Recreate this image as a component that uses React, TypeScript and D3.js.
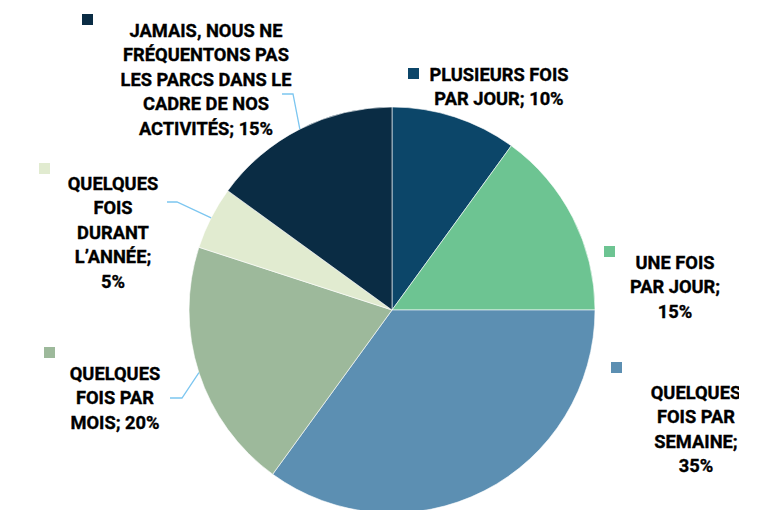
import React from "react";
import * as d3 from "d3";

// Fréquentation des parcs dans le cadre des activités
const categories = [
  "PLUSIEURS FOIS PAR JOUR",
  "UNE FOIS PAR JOUR",
  "QUELQUES FOIS PAR SEMAINE",
  "QUELQUES FOIS PAR MOIS",
  "QUELQUES FOIS DURANT L’ANNÉE",
  "JAMAIS, NOUS NE FRÉQUENTONS PAS LES PARCS DANS LE CADRE DE NOS ACTIVITÉS",
];
const values = [10, 15, 35, 20, 5, 15];

// Wrapped label text, one array of lines per slice
const labelLines = [
  ["PLUSIEURS FOIS", "PAR JOUR; 10%"],
  ["UNE FOIS", "PAR JOUR;", "15%"],
  ["QUELQUES", "FOIS PAR", "SEMAINE;", "35%"],
  ["QUELQUES", "FOIS PAR", "MOIS; 20%"],
  ["QUELQUES", "FOIS", "DURANT", "L’ANNÉE;", "5%"],
  ["JAMAIS, NOUS NE", "FRÉQUENTONS PAS", "LES PARCS DANS LE", "CADRE DE NOS", "ACTIVITÉS; 15%"],
];

const colors = ["#0c4669", "#6dc492", "#5c8fb2", "#9db99b", "#e1ebd0", "#0a2c44"];

const W = 775;
const H = 510;
const CX = 392;
const CY = 310;
const R = 203;
const LINE_H = 24.5;
const FONT_SIZE = 18.3;

// Layout of each label block: text centre x, first baseline y, legend key position,
// and (for slices with a leader) the elbow of the connector line.
const labelLayout = [
  { tx: 499, ty: 80.5, kx: 408, ky: 68, leader: null },
  { tx: 675, ty: 268.5, kx: 604, ky: 246, leader: null },
  { tx: 696, ty: 398.5, kx: 611, ky: 362, leader: null },
  { tx: 115, ty: 379.5, kx: 44, ky: 347, leader: { x0: 170, x1: 182, y: 398 } },
  { tx: 113, ty: 189.5, kx: 39, ky: 163, leader: { x0: 167, x1: 177, y: 202 } },
  { tx: 206, ty: 36.5, kx: 82, ky: 14, leader: { x0: 282, x1: 293, y: 94 } },
];

export default function App() {
  const pie = d3
    .pie<number>()
    .sort(null)
    .value((d) => d)
    .startAngle(0)
    .endAngle(2 * Math.PI);
  const arcs = pie(values);
  const arc = d3.arc<d3.PieArcDatum<number>>().innerRadius(0).outerRadius(R);

  const edgePoint = (a: d3.PieArcDatum<number>) => {
    const m = (a.startAngle + a.endAngle) / 2;
    return [CX + R * Math.sin(m), CY - R * Math.cos(m)];
  };

  return (
    <svg
      width={W}
      height={H}
      style={{ position: "absolute", left: 0, top: 0, background: "#fff" }}
      fontFamily="Roboto, 'Noto Sans', sans-serif"
    >
      <defs>
        <clipPath id="plotClip">
          <rect x={0} y={0} width={739} height={H} />
        </clipPath>
      </defs>
      <g clipPath="url(#plotClip)">
        <g transform={`translate(${CX},${CY})`}>
          {arcs.map((a, i) => (
            <path
              key={categories[i]}
              d={arc(a) || ""}
              fill={colors[i]}
              stroke="#ffffff"
              strokeWidth={0.6}
            />
          ))}
        </g>
        {arcs.map((a, i) => {
          const lay = labelLayout[i];
          const [ex, ey] = edgePoint(a);
          return (
            <g key={"lbl" + i}>
              {lay.leader && (
                <polyline
                  points={`${lay.leader.x0},${lay.leader.y} ${lay.leader.x1},${lay.leader.y} ${ex},${ey}`}
                  fill="none"
                  stroke="#7cc6f0"
                  strokeWidth={1.3}
                />
              )}
              <rect x={lay.kx} y={lay.ky} width={11} height={11} fill={colors[i]} />
              <text
                x={lay.tx}
                y={lay.ty}
                textAnchor="middle"
                fontSize={FONT_SIZE}
                fontWeight={700}
                fill="#000"
                stroke="#000"
                strokeWidth={0.35}
              >
                {labelLines[i].map((ln, j) => (
                  <tspan key={j} x={lay.tx} y={lay.ty + j * LINE_H}>
                    {ln}
                  </tspan>
                ))}
              </text>
            </g>
          );
        })}
      </g>
    </svg>
  );
}
